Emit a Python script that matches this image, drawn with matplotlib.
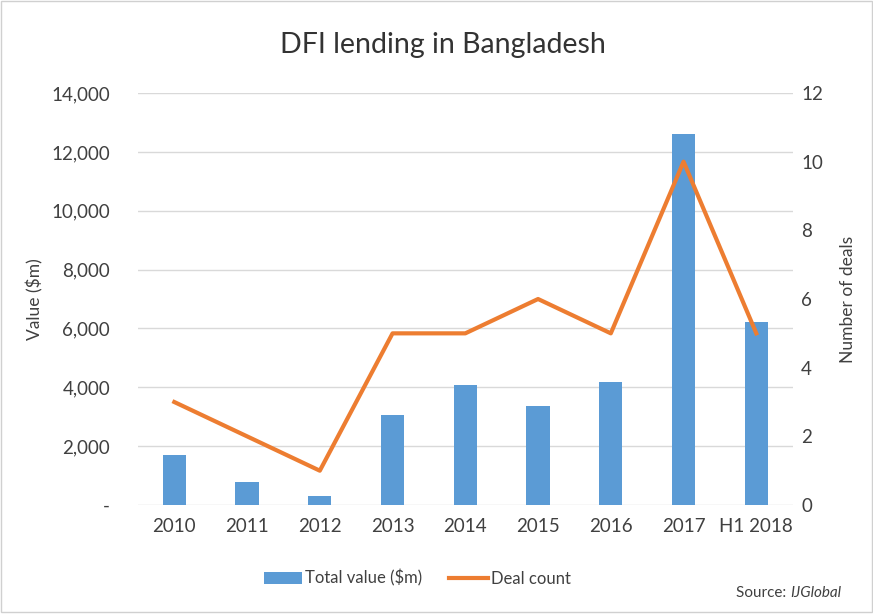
import matplotlib.pyplot as plt
from matplotlib.ticker import FuncFormatter
from matplotlib.patches import Rectangle
import numpy as np

plt.rcParams['font.family'] = ['Lato', 'DejaVu Sans']

categories = ['2010', '2011', '2012', '2013', '2014', '2015', '2016', '2017', 'H1 2018']
total_value = [1700, 780, 300, 3060, 4080, 3360, 4180, 12600, 6220]
deal_count = [3, 2, 1, 5, 5, 6, 5, 10, 5]

BLUE = '#5b9bd5'
ORANGE = '#ed7d31'
TEXT = '#404040'

fig = plt.figure(figsize=(8.73, 6.14), dpi=100)
ax = fig.add_axes([0.158, 0.1775, 0.750, 0.671])
ax2 = ax.twinx()

x = np.arange(len(categories))
ax.bar(x, total_value, width=0.32, color=BLUE, label='Total value ($m)', zorder=2)
ax2.plot(x, deal_count, color=ORANGE, linewidth=3, label='Deal count',
         solid_joinstyle='round', zorder=3)

ax.set_xlim(-0.5, len(categories) - 0.5)
ax.set_ylim(0, 14000)
ax.set_yticks(np.arange(0, 14001, 2000))
ax.yaxis.set_major_formatter(FuncFormatter(lambda v, p: '-' if v == 0 else f'{v:,.0f}'))
ax2.set_ylim(0, 12)
ax2.set_yticks(np.arange(0, 13, 2))

ax.set_xticks(x)
ax.set_xticklabels(categories)
ax.grid(axis='y', color='#d9d9d9', linewidth=1, zorder=0)
ax.set_axisbelow(True)

for a in (ax, ax2):
    for s in a.spines.values():
        s.set_visible(False)
    a.tick_params(length=0, labelsize=13.5, labelcolor=TEXT)
ax.tick_params(axis='y', pad=20)
ax.tick_params(axis='x', pad=9)
ax2.tick_params(axis='y', pad=6)

ax.set_ylabel('Value ($m)', fontsize=12.5, color=TEXT, labelpad=6)
ax2.set_ylabel('Number of deals', fontsize=12.5, color=TEXT, labelpad=12)

fig.text(0.507, 0.927, 'DFI lending in Bangladesh', fontsize=20.5, color='#333333',
         ha='center', va='center')

h1, l1 = ax.get_legend_handles_labels()
h2, l2 = ax2.get_legend_handles_labels()
fig.legend(h1 + h2, l1 + l2, loc='center', bbox_to_anchor=(0.478, 0.058), ncol=2,
           frameon=False, fontsize=12, handlelength=2.3, columnspacing=1.6,
           handletextpad=0.2, labelcolor=TEXT)

fig.text(0.905, 0.034, 'Source: ', fontsize=11, color=TEXT, ha='right', va='center')
fig.text(0.905, 0.034, 'IJGlobal', fontsize=11, color=TEXT, ha='left', va='center',
         style='italic')

fig.patches.append(Rectangle((0.001, 0.003), 0.998, 0.995, transform=fig.transFigure,
                             fill=False, edgecolor='#d0d0d0', linewidth=1))

fig.savefig('out.png', dpi=100)
